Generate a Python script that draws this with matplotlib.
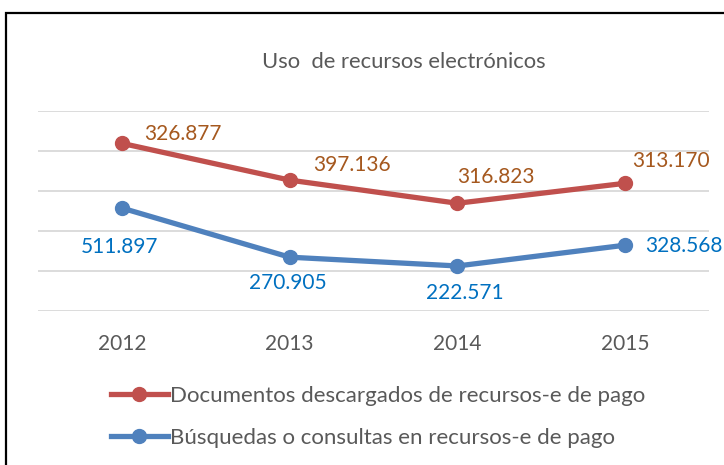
import matplotlib
matplotlib.use("Agg")
import matplotlib.pyplot as plt
from matplotlib.patches import Rectangle
from matplotlib.lines import Line2D

plt.rcParams['font.family'] = ['Lato', 'DejaVu Sans']

years = ["2012", "2013", "2014", "2015"]
# plotted positions (chart units, gridlines at 0..5)
descargas_vals = [4.19, 3.27, 2.69, 3.19]
busquedas_vals = [2.57, 1.34, 1.12, 1.64]
# data labels as printed on the chart
descargas_labels = ["326.877", "397.136", "316.823", "313.170"]
busquedas_labels = ["511.897", "270.905", "222.571", "328.568"]

red = "#C0504D"
blue = "#4F81BD"
red_lab = "#A5581E"
blue_lab = "#0070C0"
gray = "#595959"

W, H = 724, 465
fig = plt.figure(figsize=(W/100, H/100), dpi=100)
fig.patch.set_facecolor("white")

# outer frame
fig.add_artist(Rectangle((6/W, -0.1), 1.2, (H-13)/H + 0.1, transform=fig.transFigure,
                         fill=False, edgecolor="black", linewidth=1.6))

ax = fig.add_axes([38/W, (H-310.7)/H, 671/W, (310.7-111)/H])
ax.set_xlim(-0.5, 3.5)
ax.set_ylim(0, 5)
x = list(range(len(years)))

for s in ax.spines.values():
    s.set_visible(False)
ax.set_yticks(range(6))
ax.set_yticklabels([])
ax.tick_params(axis='y', length=0)
ax.grid(axis='y', color="#D9D9D9", linewidth=1.3)
ax.set_axisbelow(True)
ax.set_xticks(x)
ax.set_xticklabels(years, fontsize=15, color=gray)
ax.tick_params(axis='x', length=0, pad=17)

ax.plot(x, descargas_vals, color=red, linewidth=3.8, marker='o', markersize=10,
        solid_capstyle='round', zorder=3)
ax.plot(x, busquedas_vals, color=blue, linewidth=3.8, marker='o', markersize=10,
        solid_capstyle='round', zorder=3)

red_offsets = [(61, 9), (62, 15), (39, 26), (46, 22)]
blue_offsets = [(-2, -39), (-2, -26), (7, -27), (59, -1)]
for xi, v, lab, off in zip(x, descargas_vals, descargas_labels, red_offsets):
    ax.annotate(lab, (xi, v), xytext=off, textcoords='offset pixels',
                ha='center', va='center', fontsize=15, color=red_lab, annotation_clip=False)
for xi, v, lab, off in zip(x, busquedas_vals, busquedas_labels, blue_offsets):
    ax.annotate(lab, (xi, v), xytext=off, textcoords='offset pixels',
                ha='center', va='center', fontsize=15, color=blue_lab, annotation_clip=False)

fig.text(404/W, 1 - 62/H, "Uso  de recursos electrónicos", ha='center', va='center',
         fontsize=15.8, color=gray)

handles = [Line2D([], [], color=red, linewidth=3.8, marker='o', markersize=10),
           Line2D([], [], color=blue, linewidth=3.8, marker='o', markersize=10)]
names = ["Documentos descargados de recursos-e de pago",
         "Búsquedas o consultas en recursos-e de pago"]
leg = fig.legend(handles, names, loc='upper left', bbox_to_anchor=(111/W, 1 - 386/H),
                 frameon=False, fontsize=16, labelcolor=gray, handlelength=2.55,
                 handletextpad=0.1, labelspacing=0.97, borderaxespad=0, borderpad=0)

fig.savefig("out.png", dpi=100)
